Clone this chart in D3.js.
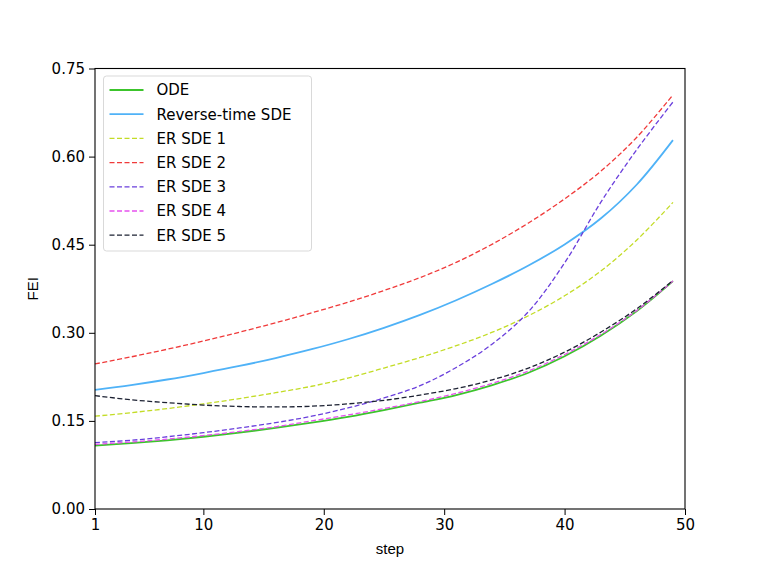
<!DOCTYPE html>
<html>
<head>
<meta charset="utf-8">
<script src="https://cdn.jsdelivr.net/npm/d3@7"></script>
<style>
  body { margin: 0; background: #fff; }
  svg { display: block; font-family: "DejaVu Sans", sans-serif; }
</style>
</head>
<body>
<div id="chart"></div>
<script>
const steps = [1, 4, 7, 10, 13, 16, 19, 22, 25, 28, 31, 34, 37, 40, 43, 46, 49];

const ode      = [0.108, 0.112, 0.117, 0.123, 0.130, 0.138, 0.147, 0.157, 0.1685, 0.181, 0.194, 0.211, 0.232, 0.260, 0.295, 0.337, 0.388];
const revSde   = [0.203, 0.211, 0.2205, 0.2315, 0.2435, 0.257, 0.272, 0.289, 0.3085, 0.3305, 0.3555, 0.3835, 0.4145, 0.4505, 0.4945, 0.5525, 0.628];
const erSde1   = [0.158, 0.164, 0.171, 0.179, 0.188, 0.198, 0.209, 0.223, 0.240, 0.258, 0.278, 0.301, 0.329, 0.363, 0.405, 0.458, 0.522];
const erSde2   = [0.247, 0.259, 0.272, 0.286, 0.301, 0.317, 0.334, 0.352, 0.372, 0.394, 0.420, 0.451, 0.487, 0.528, 0.575, 0.633, 0.705];
const erSde3   = [0.113, 0.117, 0.123, 0.130, 0.138, 0.147, 0.158, 0.172, 0.189, 0.210, 0.241, 0.281, 0.336, 0.419, 0.522, 0.612, 0.693];
const erSde4   = [0.110, 0.114, 0.119, 0.125, 0.132, 0.140, 0.150, 0.160, 0.171, 0.183, 0.197, 0.214, 0.235, 0.263, 0.297, 0.338, 0.388];
const erSde5   = [0.193, 0.186, 0.181, 0.177, 0.1745, 0.1738, 0.175, 0.179, 0.185, 0.194, 0.205, 0.220, 0.240, 0.267, 0.301, 0.341, 0.389];

const names  = ["ODE", "Reverse-time SDE", "ER SDE 1", "ER SDE 2", "ER SDE 3", "ER SDE 4", "ER SDE 5"];
const colors = ["#3cc42c", "#4fb2f7", "#c3dc26", "#f03a3a", "#6a3fdc", "#e651ee", "#1d2233"];
const dashed = [false, false, true, true, true, true, true];
const values = [ode, revSde, erSde1, erSde2, erSde3, erSde4, erSde5];

const xTicks = [1, 10, 20, 30, 40, 50];
const yTicks = [0, 0.15, 0.30, 0.45, 0.60, 0.75];

const width = 761, height = 571;
const plotLeft = 95, plotRight = 685, plotTop = 68.5, plotBottom = 509;

const svg = d3.select("#chart").append("svg")
    .attr("width", width)
    .attr("height", height);

const x = d3.scaleLinear().domain([1, 50]).range([plotLeft, plotRight]);
const y = d3.scaleLinear().domain([0, 0.75]).range([plotBottom, plotTop]);

// Lines
const line = d3.line()
    .x(d => x(d[0]))
    .y(d => y(d[1]))
    .curve(d3.curveCatmullRom.alpha(0.5));

const series = names.map((name, i) => ({
    name: name,
    color: colors[i],
    dashed: dashed[i],
    points: steps.map((s, j) => [s, values[i][j]])
}));

svg.append("g")
    .selectAll("path")
    .data(series)
    .join("path")
    .attr("fill", "none")
    .attr("stroke", d => d.color)
    .attr("stroke-width", d => d.dashed ? 1.3 : 1.8)
    .attr("stroke-dasharray", d => d.dashed ? "5,2.5" : null)
    .attr("d", d => line(d.points));

// Axes
const xAxis = svg.append("g")
    .attr("transform", `translate(0,${plotBottom})`)
    .call(d3.axisBottom(x).tickValues(xTicks).tickSize(6).tickSizeOuter(0).tickPadding(4));

const yAxis = svg.append("g")
    .attr("transform", `translate(${plotLeft},0)`)
    .call(d3.axisLeft(y).tickValues(yTicks).tickFormat(d3.format(".2f")).tickSize(6).tickSizeOuter(0).tickPadding(4));

[xAxis, yAxis].forEach(g => {
    g.select(".domain").remove();
    g.selectAll("line").attr("stroke", "#000").attr("stroke-width", 1);
    g.selectAll("text")
        .attr("fill", "#000")
        .style("font-family", "DejaVu Sans, sans-serif")
        .style("font-size", "15px");
});

// Frame (spines)
svg.append("rect")
    .attr("x", plotLeft)
    .attr("y", plotTop)
    .attr("width", plotRight - plotLeft)
    .attr("height", plotBottom - plotTop)
    .attr("fill", "none")
    .attr("stroke", "#000")
    .attr("stroke-width", 1.1);

// Axis labels
svg.append("text")
    .attr("x", (plotLeft + plotRight) / 2)
    .attr("y", 554)
    .attr("text-anchor", "middle")
    .style("font-family", "Liberation Sans, Arial, sans-serif")
    .style("font-size", "15px")
    .text("step");

svg.append("text")
    .attr("transform", `translate(38,${(plotTop + plotBottom) / 2}) rotate(-90)`)
    .attr("text-anchor", "middle")
    .style("font-family", "Liberation Sans, Arial, sans-serif")
    .style("font-size", "15px")
    .text("FEI");

// Legend
const legend = svg.append("g").attr("transform", "translate(103.5,76)");

legend.append("rect")
    .attr("width", 208)
    .attr("height", 175)
    .attr("rx", 3)
    .attr("fill", "#fff")
    .attr("fill-opacity", 0.8)
    .attr("stroke", "#d9d9d9")
    .attr("stroke-width", 1);

const item = legend.selectAll("g.item")
    .data(series)
    .join("g")
    .attr("class", "item")
    .attr("transform", (d, i) => `translate(0,${14 + i * 24.2})`);

item.append("line")
    .attr("x1", 6)
    .attr("x2", 40)
    .attr("stroke", d => d.color)
    .attr("stroke-width", d => d.dashed ? 1.3 : 1.8)
    .attr("stroke-dasharray", d => d.dashed ? "5,2.5" : null);

item.append("text")
    .attr("x", 53)
    .attr("dy", "0.36em")
    .attr("fill", "#000")
    .style("font-size", "15px")
    .text(d => d.name);
</script>
</body>
</html>
